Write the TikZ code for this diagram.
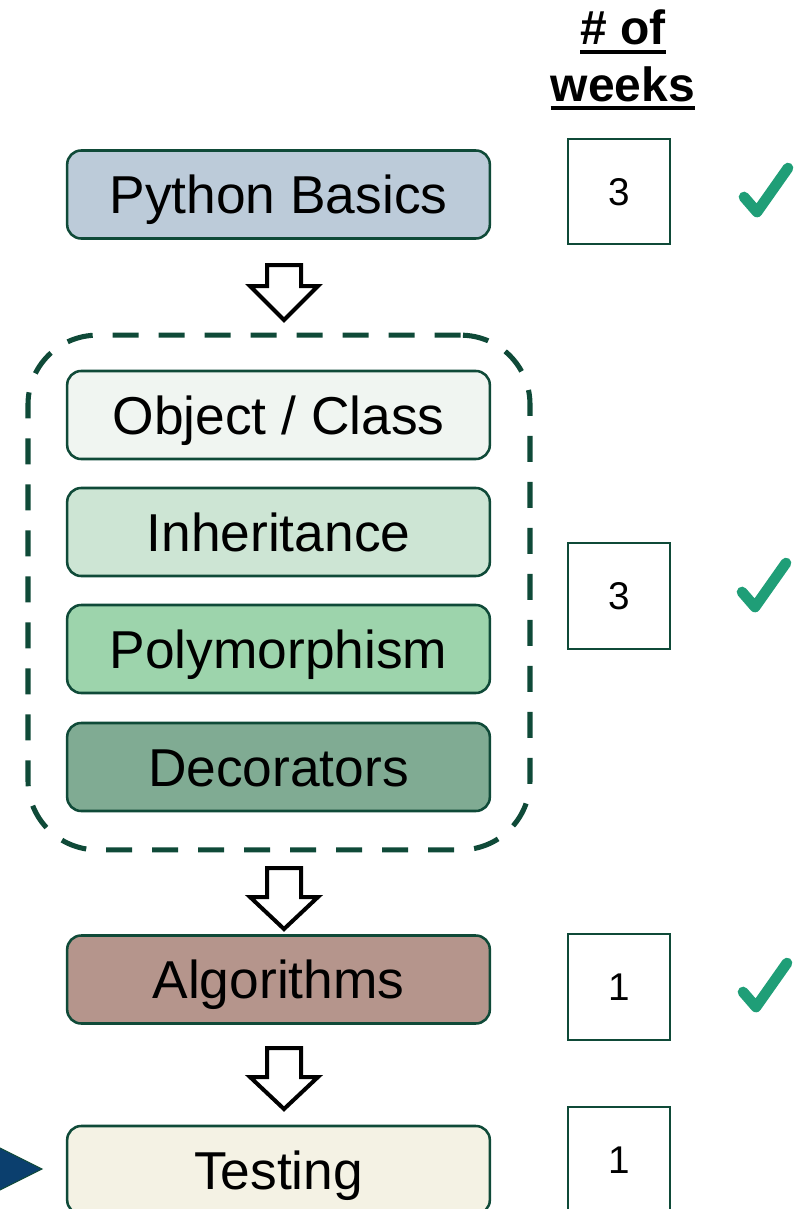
\documentclass[tikz,border=0pt]{standalone}
\usepackage{fontspec}
\setmainfont{Liberation Sans}
\usetikzlibrary{calc}
\definecolor{bd}{HTML}{0F4A38}
\definecolor{cPB}{HTML}{BCCBD9}
\definecolor{cOC}{HTML}{F0F5F1}
\definecolor{cIn}{HTML}{CDE5D4}
\definecolor{cPo}{HTML}{9DD4AC}
\definecolor{cDe}{HTML}{80AB93}
\definecolor{cAl}{HTML}{B5958C}
\definecolor{cTe}{HTML}{F4F2E4}
\definecolor{chk}{HTML}{1F9E77}
\definecolor{tri}{HTML}{0B3F6E}
\tikzset{
  topic/.style={draw=bd, line width=1.9pt, rounded corners=10.5pt, minimum width=317pt, minimum height=66pt, inner sep=0pt, font=\fontsize{40}{40}\selectfont, text height=28.6pt, text depth=0pt},
  wk/.style={draw=bd, line width=1.6pt, fill=white, minimum width=77pt, minimum height=79pt, inner sep=0pt, font=\fontsize{29}{29}\selectfont, text height=20.8pt, text depth=0pt},
  hdr/.style={font=\bfseries\fontsize{36}{36}\selectfont, inner sep=0pt, anchor=base},
  blk/.style={draw=black, line width=3pt, fill=white, miter limit=10},
  tickline/.style={draw=chk, line width=8pt, line cap=round, line join=round},
  grpbox/.style={draw=bd, line width=3.8pt, dash pattern=on 19.5pt off 15pt, rounded corners=52pt, minimum width=376.5pt, minimum height=386pt, inner sep=0pt},
  chkmark/.pic={\draw[tickline] (-13,-15) -- (0,0) -- (31,-44);}
}
\begin{document}
\begin{tikzpicture}[x=0.75pt,y=-0.75pt]
\useasboundingbox (0,0) rectangle (799,1209);
\clip (0,0) rectangle (799,1209);

% header
\node[hdr] (h1) at (623,45) {\# of};
\node[hdr] (h2) at (623,102) {weeks};
\draw[line width=3pt] ($(h1.base west)+(0,7)$) -- ($(h1.base east)+(0,7)$);
\draw[line width=3pt] ($(h2.base west)+(0,6)$) -- ($(h2.base east)+(0,6)$);

% group
\node[grpbox] (grp) at (279,592.5) {};

% topics
\node[topic, fill=cPB] (pb) at (278.5,194.5) {Python Basics};
\node[topic, fill=cOC] (oc) at (278.5,415) {Object / Class};
\node[topic, fill=cIn] (inh) at (278.5,532) {Inheritance};
\node[topic, fill=cPo] (poly) at (278.5,649) {Polymorphism};
\node[topic, fill=cDe] (dec) at (278.5,767) {Decorators};
\node[topic, fill=cAl] (alg) at (278.5,979.5) {Algorithms};
\node[topic, fill=cTe] (tst) at (278.5,1170) {Testing};

% block arrows
\draw[blk] (267,265) -- (301,265) -- (301,286) -- (318,286) -- (284,320) -- (250,286) -- (267,286) -- cycle;
\draw[blk] (267,868) -- (301,868) -- (301,897) -- (318,897) -- (284,929) -- (250,897) -- (267,897) -- cycle;
\draw[blk] (267,1048) -- (301,1048) -- (301,1077) -- (318,1077) -- (284,1109) -- (250,1077) -- (267,1077) -- cycle;

% week boxes
\node[wk] (w1) at (619,191.5) {3};
\node[wk] (w2) at (619,596) {3};
\node[wk] (w3) at (619,987) {1};
\node[wk] (w4) at (619,1160) {1};

% checkmarks
\pic at (757,212) {chkmark};
\pic at (755,607) {chkmark};
\pic at (756,1007) {chkmark};

% pointer
\filldraw[fill=tri, draw=bd, line width=0.8pt] (-30,1133) -- (42,1169) -- (-30,1205) -- cycle;
\end{tikzpicture}
\end{document}
